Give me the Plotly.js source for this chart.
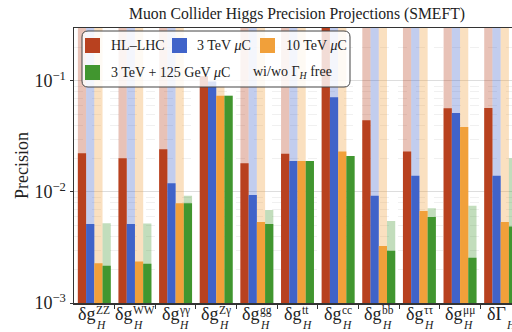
<!DOCTYPE html>
<html>
<head>
<meta charset="utf-8">
<script src="https://cdn.plot.ly/plotly-3.0.1.min.js"></script>
<style>
html,body{margin:0;padding:0;overflow:hidden;background:#fff;width:512px;height:332px;}
#chart{width:540px;height:332px;}
</style>
</head>
<body>
<div id="chart"></div>
<script>
// ---- data ----
const categories = ['ZZ','WW','γγ','Zγ','gg','tt','cc','bb','ττ','μμ','Γ'];
const labelBase = ['δg','δg','δg','δg','δg','δg','δg','δg','δg','δg','δΓ'];
const labelSup = ['ZZ','WW','γγ','Zγ','gg','tt','cc','bb','ττ','μμ',''];
const labelSub = ['H','H','H','H','H','H','H','H','H','H','H'];
const yTickVals = [0.001, 0.01, 0.1];
const yTickText = ['10<sup>−3</sup>','10<sup>−2</sup>','10<sup>−1</sup>'];

const seriesNames = ['HL–LHC','3 TeV <i>μ</i>C','10 TeV <i>μ</i>C','3 TeV + 125 GeV <i>μ</i>C'];
// without Γ_H free (solid bars)
const hlLhc   = [0.0223, 0.0201, 0.0242, 0.110, 0.0181, 0.0221, 0.50,  0.0443, 0.0231, 0.0568, 0.0570];
const mu3     = [0.00515,0.00515,0.0120, 0.099, 0.0094, 0.0190, 0.0713,0.00927,0.0140, 0.0515, 0.0140];
const mu10    = [0.00228,0.00236,0.0079, 0.0735,0.00537,0.0190, 0.0231,0.00326,0.00674,0.0385, 0.00537];
const mu3h    = [0.00217,0.00226,0.0079, 0.0735,0.00515,0.0190, 0.0211,0.00296,0.00595,0.00256,0.00488];
// with Γ_H free (faded bars; 1.0 = beyond the top of the axis)
const hlLhcFree = [1.0, 1.0, 1.0, 0.110, 1.0, 1.0, 1.0, 1.0, 1.0, 1.0, 1.0];
const mu3Free   = [1.0, 1.0, 1.0, 0.099, 1.0, 1.0, 1.0, 1.0, 1.0, 1.0, 1.0];
const mu10Free  = [1.0, 1.0, 1.0, 0.090, 1.0, 1.0, 1.0, 1.0, 1.0, 1.0, 1.0];
const mu3hFree  = [0.00522,0.0052,0.00927,0.0735,0.00689,0.0190,0.0211,0.00548,0.00712,0.00753,0.0201];

const colors = ['#B8411F','#4063C9','#F1A03A','#41962F'];
const lightAlpha = 0.32;

// ---- layout geometry ----
const W = 540, H = 332, ML = 74, MR = 19, MT = 28, MB = 29;
const PW = W - ML - MR, PH = H - MT - MB;
const X = px => (px - ML) / PW;
const Y = py => (H - MB - py) / PH;

function hexA(hex, a){
  const r = parseInt(hex.slice(1,3),16), g = parseInt(hex.slice(3,5),16), b = parseInt(hex.slice(5,7),16);
  return `rgba(${r},${g},${b},${a})`;
}

const solid = [hlLhc, mu3, mu10, mu3h];
const faded = [hlLhcFree, mu3Free, mu10Free, mu3hFree];
const xs = categories.map((c,i)=>i);

const traces = [];
faded.forEach((v,k)=>traces.push({
  type:'bar', x:xs, y:v, offsetgroup:'g'+k, marker:{color:hexA(colors[k],lightAlpha), line:{width:0}},
  showlegend:false, hoverinfo:'skip'
}));
solid.forEach((v,k)=>traces.push({
  type:'bar', x:xs, y:v, offsetgroup:'g'+k, marker:{color:colors[k], line:{width:0}},
  showlegend:false, name:seriesNames[k]
}));

const serif = 'Liberation Serif, DejaVu Serif, serif';
const annotations = [];
const shapes = [];

// text measuring for centering stacked tick labels
const cv = document.createElement('canvas').getContext('2d');
function tw(t, size, italic){ cv.font = (italic?'italic ':'') + size + 'px "Liberation Serif"'; return cv.measureText(t).width; }
const baseSize = 18, supSize = 11.5;

categories.forEach((c,i)=>{
  const bw = tw(labelBase[i], baseSize, false);
  const sw = Math.max(labelSup[i] ? tw(labelSup[i], supSize, false) : 0, tw(labelSub[i], supSize, true));
  const total = bw + 0.5 + sw;
  const left = -total/2;
  const common = {xref:'x', yref:'paper', x:i, showarrow:false, xanchor:'left', yanchor:'middle', borderpad:0, borderwidth:0};
  annotations.push(Object.assign({}, common, {y:Y(314), xshift:left, text:labelBase[i], font:{family:serif, size:baseSize, color:'#222'}}));
  if(labelSup[i]) annotations.push(Object.assign({}, common, {y:Y(310), xshift:left+bw+0.5, text:labelSup[i], font:{family:serif, size:supSize, color:'#222'}}));
  annotations.push(Object.assign({}, common, {y:Y(325), xshift:left+bw+0.5, text:'<i>'+labelSub[i]+'</i>', font:{family:serif, size:supSize, color:'#222'}}));
});

// y axis title
annotations.push({xref:'paper', yref:'paper', x:X(22), y:Y(166), text:'Precision', textangle:-90, showarrow:false,
  xanchor:'center', yanchor:'middle', font:{family:serif, size:18, color:'#222'}});

// legend box (rounded)
(function(){
  const x0=X(82), x1=X(350), y0=Y(87), y1=Y(31);
  const rx = 6/PW, ry = 6/PH;
  const p = `M ${x0+rx},${y0} L ${x1-rx},${y0} Q ${x1},${y0} ${x1},${y0+ry} L ${x1},${y1-ry} Q ${x1},${y1} ${x1-rx},${y1} L ${x0+rx},${y1} Q ${x0},${y1} ${x0},${y1-ry} L ${x0},${y0+ry} Q ${x0},${y0} ${x0+rx},${y0} Z`;
  shapes.push({type:'path', xref:'paper', yref:'paper', path:p, fillcolor:'rgba(255,255,255,0.82)', line:{color:'#444', width:1}, layer:'above'});
})();
const legPos = [[85,38,110],[172,38,196],[260,38,285],[85,65,110]];
legPos.forEach((p,k)=>{
  shapes.push({type:'rect', xref:'paper', yref:'paper', x0:X(p[0]), x1:X(p[0]+15), y0:Y(p[1]+15), y1:Y(p[1]),
    fillcolor:colors[k], line:{width:0}, layer:'above'});
  annotations.push({xref:'paper', yref:'paper', x:X(p[2]), y:Y(p[1]+7.5), text:seriesNames[k], showarrow:false,
    xanchor:'left', yanchor:'middle', borderpad:0, font:{family:serif, size:14, color:'#222'}});
});
annotations.push({xref:'paper', yref:'paper', x:X(252), y:Y(72.5), text:'wi/wo Γ<sub><i>H</i></sub> free', showarrow:false,
  xanchor:'left', yanchor:'middle', borderpad:0, font:{family:serif, size:14, color:'#222'}});

const layout = {
  width:W, height:H,
  margin:{l:ML, r:MR, t:MT, b:MB, pad:0},
  paper_bgcolor:'#fff', plot_bgcolor:'#fff',
  barmode:'group', bargap:0.19, bargroupgap:0,
  title:{text:'Muon Collider Higgs Precision Projections (SMEFT)', x:X(297), xanchor:'center', xref:'paper',
    y:1-14/H, yref:'container', yanchor:'middle', font:{family:serif, size:15.7, color:'#222'}},
  xaxis:{type:'linear', range:[-0.5, 10.5], showticklabels:false, showgrid:false, zeroline:false,
    ticks:'outside', tickvals:xs.map(i=>i+0.5), ticklen:4, tickcolor:'#333',
    showline:true, linecolor:'#333', linewidth:1.5, mirror:true},
  yaxis:{type:'log', range:[-3, -0.523], tickvals:yTickVals, ticktext:yTickText,
    ticks:'outside', ticklen:3, tickcolor:'#333',
    tickfont:{family:serif, size:18, color:'#222'},
    showgrid:true, gridcolor:'#dddddd', gridwidth:1,
    minor:{showgrid:true, gridcolor:'#ececec', griddash:'dash', gridwidth:0.8, dtick:'D1', ticks:''},
    showline:true, linecolor:'#333', linewidth:1.5, mirror:true, zeroline:false},
  annotations:annotations, shapes:shapes
};

Plotly.newPlot('chart', traces, layout, {staticPlot:true, displayModeBar:false});
</script>
</body>
</html>
